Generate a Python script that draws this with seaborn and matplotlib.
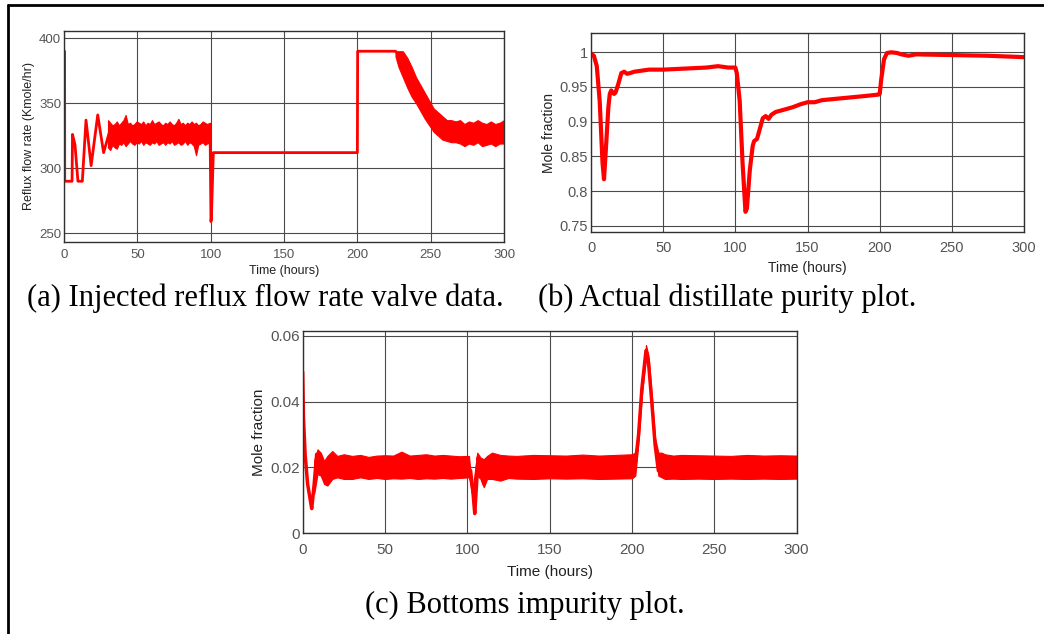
import numpy as np
import pandas as pd
import matplotlib
matplotlib.use("Agg")
import matplotlib.pyplot as plt
from matplotlib.lines import Line2D
import seaborn as sns

# ---------------------------------------------------------
# data
# ---------------------------------------------------------
# (a) reflux flow rate valve data - main trace
a_t = [0, 0.4, 0.5, 5.5, 5.8, 7.5, 9.5, 12.5, 15, 18.5, 23, 27, 31, 60, 99.6,
       100.2, 100.5, 101.8, 102, 200, 200.2, 226, 230, 235, 240, 245, 250, 255,
       260, 270, 285, 300]
a_v = [390, 390, 290, 290, 326, 318, 290, 290, 337, 302, 341, 312, 328, 327, 327,
       259, 262, 312, 312, 312, 390, 390, 385, 373, 361, 350, 341, 334,
       330, 328, 327, 327]
# noise envelope, 30-100 h
a_n1_t = [30, 31.5, 33, 34.5, 36, 37.5, 39, 40.5, 42, 43.5, 45, 46.5, 48, 49.5,
          51, 52.5, 54, 55.5, 57, 58.5, 60, 61.5, 63, 64.5, 66, 67.5, 69, 70.5,
          72, 73.5, 75, 76.5, 78, 79.5, 81, 82.5, 84, 85.5, 87, 88.5, 90, 91.5,
          93, 94.5, 96, 97.5, 99.5]
a_n1_hi = [337, 335, 333, 334, 336, 333, 335, 337, 341, 334, 335, 333, 334, 336,
           335, 334, 336, 333, 335, 334, 337, 334, 335, 336, 334, 333, 335, 334,
           336, 334, 333, 335, 338, 334, 335, 333, 335, 334, 336, 334, 335, 333,
           334, 336, 335, 334, 335]
a_n1_lo = [316, 314, 318, 316, 315, 319, 318, 320, 317, 319, 321, 319, 318, 320,
           319, 321, 318, 320, 319, 318, 320, 319, 321, 318, 319, 320, 318, 320,
           319, 321, 318, 319, 320, 318, 319, 321, 318, 320, 319, 317, 310, 318,
           319, 320, 318, 319, 320]
# noise envelope, 226-300 h
a_n2_t = [226, 228, 231, 234, 237, 240, 243, 246, 249, 252, 255, 258, 261, 264,
          267, 270, 273, 276, 279, 282, 285, 288, 291, 294, 297, 300]
a_n2_hi = [390, 390, 390, 385, 378, 370, 364, 358, 352, 346, 343, 340, 337, 337,
           336, 337, 334, 336, 335, 337, 335, 334, 336, 334, 335, 337]
a_n2_lo = [386, 378, 370, 362, 355, 350, 344, 338, 333, 328, 325, 322, 321, 320,
           320, 319, 317, 319, 318, 320, 317, 318, 319, 317, 319, 319]

# (b) distillate purity
b_t = [0, 2, 4, 6, 8, 9, 10, 12, 13, 14, 15, 16, 17, 19, 21, 23, 25, 27, 30, 40,
       50, 60, 70, 80, 88, 95, 100, 101, 103, 105, 107, 108, 110, 112, 113, 115,
       117, 119, 121, 123, 125, 128, 135, 140, 145, 150, 155, 160, 170, 180, 190,
       199, 200, 201, 203, 205, 208, 212, 215, 220, 225, 250, 275, 300]
b_v = [0.998, 0.995, 0.98, 0.93, 0.84, 0.817, 0.85, 0.92, 0.94, 0.945, 0.942,
       0.94, 0.942, 0.955, 0.97, 0.972, 0.969, 0.97, 0.972, 0.975,
       0.975, 0.976, 0.977, 0.978, 0.98, 0.978, 0.978, 0.97, 0.93, 0.84, 0.77,
       0.775, 0.83, 0.865, 0.872, 0.875, 0.89, 0.905, 0.908, 0.904, 0.91, 0.914,
       0.918, 0.921, 0.925, 0.928, 0.928, 0.931, 0.933, 0.935, 0.937,
       0.939, 0.94, 0.96, 0.99, 0.999, 1.0, 0.999, 0.997, 0.995, 0.997, 0.996,
       0.995, 0.993]

# (c) bottoms impurity - main trace
c_t = [0, 0.5, 1.5, 3, 5, 5.5, 7, 8.5, 10, 12, 13.5, 15, 17, 20, 100, 102, 103.5,
       104.5, 105.5, 106.5, 108, 110, 112, 200, 202, 204, 206, 208.5, 210, 212,
       214, 216, 218, 220, 300]
c_v = [0.049, 0.035, 0.024, 0.015, 0.009, 0.0075, 0.015, 0.024, 0.022, 0.018,
       0.016, 0.021, 0.021, 0.020, 0.020, 0.019, 0.012,
       0.006, 0.014, 0.023, 0.020, 0.015, 0.020, 0.020, 0.021, 0.030, 0.044,
       0.0555, 0.052, 0.040, 0.027, 0.019, 0.019, 0.020, 0.020]
# noise envelope
c_n_t = [7, 9, 11, 13, 15, 18, 21, 25, 30, 35, 40, 45, 50, 55, 60, 65, 70, 75, 80,
         85, 90, 95, 101, 103, 106, 108, 110, 112, 115, 120, 125, 130, 140, 150,
         160, 170, 180, 190, 200, 202, 204, 206, 208.5, 210, 212, 214, 216, 218,
         220, 225, 230, 240, 250, 260, 270, 280, 290, 300]
c_n_hi = [0.022, 0.0255, 0.0245, 0.022, 0.0235, 0.025, 0.0235, 0.024, 0.0235,
          0.0238, 0.0232, 0.0236, 0.0237, 0.0236, 0.0248, 0.0236, 0.0238, 0.024,
          0.0236, 0.0238, 0.0236, 0.0234, 0.0235, 0.0125, 0.0245, 0.023, 0.0225,
          0.0235, 0.0245, 0.0238, 0.0236, 0.0235, 0.0238, 0.0237, 0.0236, 0.0239,
          0.0236, 0.0238, 0.024, 0.0245, 0.0315, 0.046, 0.0572, 0.054, 0.042,
          0.029, 0.0245, 0.0245, 0.024, 0.0236, 0.0238, 0.0237, 0.0236, 0.0235,
          0.0238, 0.0236, 0.0237, 0.0236]
c_n_lo = [0.012, 0.018, 0.0175, 0.015, 0.0145, 0.0165, 0.017, 0.0165, 0.0165,
          0.017, 0.0165, 0.0168, 0.0165, 0.0167, 0.0166, 0.0168, 0.0165, 0.0167,
          0.0166, 0.0168, 0.0166, 0.0168, 0.017, 0.0115, 0.0175, 0.0165, 0.014,
          0.0165, 0.0165, 0.016, 0.0168, 0.0166, 0.0165, 0.0167, 0.0166, 0.0167,
          0.0165, 0.0166, 0.0167, 0.0175, 0.028, 0.042, 0.053, 0.05, 0.038, 0.025,
          0.0175, 0.017, 0.0165, 0.0166, 0.0165, 0.0166, 0.0165, 0.0166, 0.0165,
          0.0166, 0.0165, 0.0166]

captions = ["(a) Injected reflux flow rate valve data.",
            "(b) Actual distillate purity plot.",
            "(c) Bottoms impurity plot."]

# ---------------------------------------------------------
# figure
# ---------------------------------------------------------
sns.set_theme(style="white")
plt.rcParams["font.family"] = ["Liberation Sans", "DejaVu Sans"]
RED = "#ff0000"
GRID = "#4a4a4a"
TICK = "#555555"

fig = plt.figure(figsize=(10.44, 6.34), dpi=100)
fig.patch.set_facecolor("white")

ax_a = fig.add_axes([0.0613, 0.6188, 0.4215, 0.3328])
ax_b = fig.add_axes([0.5661, 0.6336, 0.4148, 0.3139])
ax_c = fig.add_axes([0.2899, 0.1588, 0.4732, 0.3190])


def style_axes(ax, ticks_y, ylim, ylabel, fs_tick, fs_lab, xpad, xlabpad,
               fmt=None):
    ax.set_xlim(0, 300)
    ax.set_ylim(*ylim)
    ax.set_xticks([0, 50, 100, 150, 200, 250, 300])
    ax.set_yticks(ticks_y)
    if fmt is not None:
        ax.set_yticklabels([fmt(v) for v in ticks_y])
    ax.grid(True, color=GRID, linewidth=0.8)
    ax.set_axisbelow(True)
    for s in ax.spines.values():
        s.set_color("#303030")
        s.set_linewidth(1.0)
    ax.tick_params(direction="in", length=3, colors="#303030",
                   labelcolor=TICK, labelsize=fs_tick, pad=2)
    ax.tick_params(axis="x", pad=xpad)
    ax.set_xlabel("Time (hours)", fontsize=fs_lab, color="#222222",
                  labelpad=xlabpad)
    ax.set_ylabel(ylabel, fontsize=fs_lab, color="#222222", labelpad=3)


# (a)
df_a = pd.DataFrame({"t": a_t, "v": a_v})
ax_a.fill_between(a_n1_t, a_n1_lo, a_n1_hi, color=RED, linewidth=0.8)
ax_a.fill_between(a_n2_t, a_n2_lo, a_n2_hi, color=RED, linewidth=0.8)
sns.lineplot(data=df_a, x="t", y="v", ax=ax_a, color=RED, linewidth=2)
style_axes(ax_a, [250, 300, 350, 400], (243.5, 405.8),
           "Reflux flow rate (Kmole/hr)", 9.5, 9, 5.5, 3)

# (b)
df_b = pd.DataFrame({"t": b_t, "v": b_v})
sns.lineplot(data=df_b, x="t", y="v", ax=ax_b, color=RED, linewidth=3)
style_axes(ax_b, [0.75, 0.8, 0.85, 0.9, 0.95, 1.0], (0.7405, 1.0274),
           "Mole fraction", 10.5, 10, 6.5, 4, fmt=lambda v: f"{v:g}")

# (c)
df_c = pd.DataFrame({"t": c_t, "v": c_v})
ax_c.fill_between(c_n_t, c_n_lo, c_n_hi, color=RED, linewidth=0.8)
sns.lineplot(data=df_c, x="t", y="v", ax=ax_c, color=RED, linewidth=2.5)
style_axes(ax_c, [0, 0.02, 0.04, 0.06], (0, 0.0614),
           "Mole fraction", 11, 11, 7, 6, fmt=lambda v: f"{v:g}")

# captions
serif = ["Liberation Serif", "DejaVu Serif"]
fig.text(265 / 1044, 1 - 298 / 634, captions[0], ha="center", va="center",
         fontsize=22, family=serif, color="black")
fig.text(727 / 1044, 1 - 298 / 634, captions[1], ha="center", va="center",
         fontsize=22, family=serif, color="black")
fig.text(525 / 1044, 1 - 605 / 634, captions[2], ha="center", va="center",
         fontsize=22, family=serif, color="black")

# outer frame (top and left edges only)
fig.add_artist(Line2D([8 / 1044, 1], [1 - 5 / 634, 1 - 5 / 634],
                      transform=fig.transFigure, color="black", linewidth=2))
fig.add_artist(Line2D([8 / 1044, 8 / 1044], [0, 1 - 5 / 634],
                      transform=fig.transFigure, color="black", linewidth=2))

fig.savefig("out.png", dpi=100)
